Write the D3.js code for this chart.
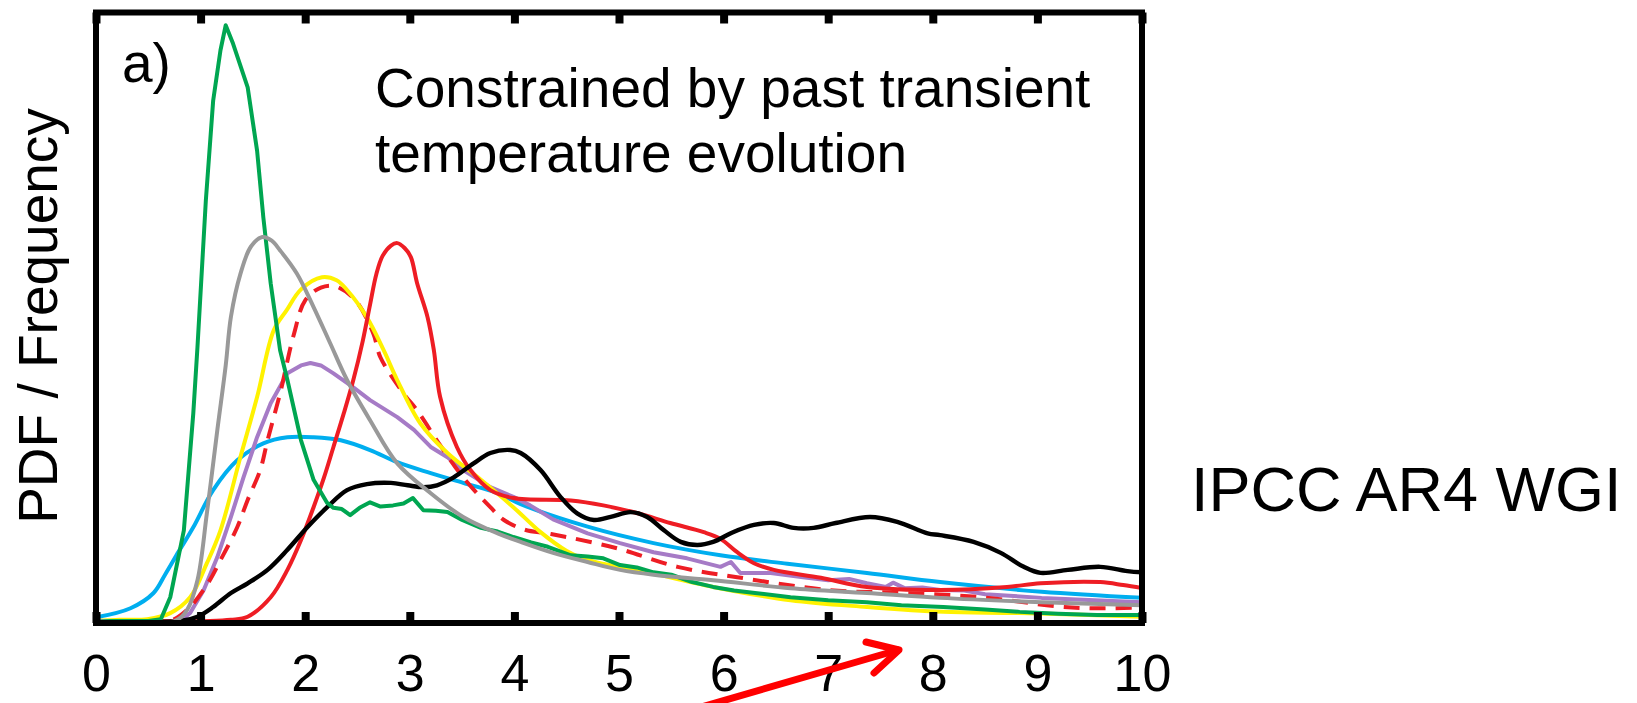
<!DOCTYPE html>
<html>
<head>
<meta charset="utf-8">
<script src="https://cdn.jsdelivr.net/npm/d3@7"></script>
<style>
  html, body { margin: 0; padding: 0; background: #fff; }
  svg { display: block; }
  text { font-family: "Liberation Sans", Arial, Helvetica, sans-serif; fill: #000; }
</style>
</head>
<body>
<div id="chart"></div>
<script>
// climate sensitivity PDFs, panel a) (relative PDF, % of panel height)

const xTicks = [0, 1, 2, 3, 4, 5, 6, 7, 8, 9, 10];

const blue = [[0,0.6],[0.33,2.1],[0.55,4.6],[0.66,7.6],[0.79,11.4],[0.93,15.4],[1.12,21.5],[1.35,26.4],[1.6,29.2],
  [1.83,30.2],[2.08,30.2],[2.34,29.7],[2.62,28.1],[2.88,26.1],[3.2,24.3],[3.51,22.7],[3.84,21.0],[4.06,19.2],
  [4.7,15.5],[5.33,12.8],[5.97,10.8],[6.61,9.4],[7.37,7.9],[8.07,6.4],[9.04,4.8],[10,3.8]];

const purple = [[0,0],[0.81,0],[0.9,1.3],[1.03,5.1],[1.16,10.5],[1.29,17.1],[1.41,23.6],[1.54,30.2],[1.67,35.8],
  [1.83,40.7],[1.96,42.0],[2.05,42.4],[2.15,42.0],[2.27,40.7],[2.46,38.4],[2.62,36.3],[2.88,33.5],[3.04,31.4],
  [3.2,28.6],[3.36,26.9],[3.51,24.8],[3.77,22.0],[3.99,20.4],[4.15,19.0],[4.37,16.7],[4.7,14.4],[5.01,12.8],
  [5.33,11.3],[5.65,10.3],[5.97,8.9],[6.07,9.7],[6.16,7.9],[6.45,7.9],[6.76,7.2],[7.0,6.7],[7.2,6.9],[7.37,6.2],
  [7.55,5.6],[7.62,6.3],[7.73,5.4],[7.9,5.5],[8.07,5.1],[8.3,5.0],[8.5,4.4],[9.04,3.8],[10,3.1]];

const redDashed = [[0,0],[0.7,0],[0.74,0.2],[0.9,2.3],[1.07,6.2],[1.19,10.0],[1.35,15.4],[1.45,19.9],[1.57,24.8],
  [1.64,29.7],[1.76,37.4],[1.89,47.0],[2.0,52.7],[2.15,54.8],[2.29,55.0],[2.48,52.7],[2.65,47.3],[2.72,43.3],
  [2.94,37.4],[3.07,34.6],[3.29,28.9],[3.51,23.6],[3.77,18.7],[3.9,16.6],[4.1,15.0],[4.35,14.3],[4.97,12.0],
  [5.56,8.9],[6.13,7.2],[7.0,5.1],[7.73,4.6],[8.47,3.9],[9.19,2.4],[9.5,2.1],[10,2.2]];

const yellow = [[0,0],[0.23,0.2],[0.49,0.3],[0.71,1.3],[0.9,3.9],[1.06,9.5],[1.19,14.9],[1.38,26.9],[1.54,36.8],
  [1.7,47.8],[1.82,51.0],[1.96,54.5],[2.16,56.5],[2.3,56.0],[2.4,54.4],[2.59,49.9],[2.75,44.5],[2.88,39.6],
  [3.1,32.5],[3.36,27.6],[3.68,23.2],[3.99,18.7],[4.25,14.6],[4.5,11.5],[4.65,10.3],[4.8,9.6],[5.17,8.4],
  [5.9,5.6],[6.64,3.4],[7.37,2.3],[8.1,1.5],[8.83,1.3],[10,0.7]];

const redSolid = [[0,0],[1.09,0],[1.29,0.2],[1.45,0.7],[1.67,3.9],[1.83,8.4],[1.96,13.3],[2.08,18.7],[2.18,23.6],
  [2.27,28.6],[2.37,34.2],[2.46,39.6],[2.55,46.0],[2.62,52.0],[2.68,57.0],[2.74,60.0],[2.82,61.7],[2.88,62.1],
  [2.95,61.3],[3.01,59.8],[3.07,55.5],[3.17,49.9],[3.23,44.5],[3.29,36.8],[3.45,28.6],[3.58,24.8],[3.77,21.5],
  [3.99,20.2],[4.54,19.8],[4.85,19.0],[5.18,17.7],[5.49,16.1],[5.81,14.6],[5.97,13.5],[6.13,11.3],[6.29,9.5],
  [6.48,8.4],[6.93,7.1],[7.37,5.6],[8.07,5.1],[8.71,5.6],[9.03,6.2],[9.6,6.4],[9.82,5.9],[10,5.4]];

const black = [[0,0],[0.81,0],[0.97,0.7],[1.12,2.3],[1.29,4.6],[1.45,6.2],[1.64,8.4],[1.83,11.7],[2.02,15.4],
  [2.21,18.7],[2.4,21.5],[2.59,22.5],[2.82,22.7],[2.98,22.3],[3.13,22.0],[3.26,22.3],[3.42,23.6],[3.61,25.9],
  [3.77,27.6],[3.96,28.1],[4.06,27.6],[4.25,24.8],[4.44,20.4],[4.6,17.7],[4.76,16.6],[4.92,17.1],[5.11,17.9],
  [5.27,17.1],[5.43,14.9],[5.59,13.0],[5.75,12.5],[5.9,13.0],[6.09,14.6],[6.29,15.8],[6.48,16.1],[6.67,15.3],
  [6.86,15.3],[7.07,16.1],[7.4,17.1],[7.66,16.3],[7.95,14.4],[8.07,14.1],[8.39,13.0],[8.65,11.2],[8.87,8.9],
  [9.03,7.9],[9.29,8.4],[9.6,8.9],[9.86,8.2],[10,8.0]];

const green = [[0,0],[0.5,0],[0.62,0.3],[0.71,3.9],[0.84,14.9],[0.93,34.1],[0.97,45.0],[1.05,69.1],[1.12,85.5],
  [1.19,93.8],[1.24,97.9],[1.31,94.9],[1.45,87.7],[1.54,77.3],[1.6,66.3],[1.67,55.5],[1.76,44.5],[1.83,39.6],
  [1.96,29.7],[2.08,23.2],[2.21,19.4],[2.27,18.6],[2.35,18.4],[2.43,17.4],[2.52,18.6],[2.62,19.5],[2.72,18.8],
  [2.84,19.0],[2.94,19.3],[3.03,20.2],[3.13,18.2],[3.25,18.1],[3.36,17.9],[3.5,16.6],[3.68,15.3],[3.84,14.7],
  [3.99,13.8],[4.16,12.9],[4.32,12.2],[4.54,10.8],[4.7,10.6],[4.85,10.3],[5.01,9.2],[5.17,8.8],[5.33,8.0],
  [5.5,7.6],[5.7,6.4],[5.9,5.6],[6.1,5.0],[6.3,4.6],[6.64,3.9],[7.0,3.4],[7.37,3.1],[7.7,2.6],[8.1,2.3],
  [8.5,1.9],[8.83,1.5],[9.2,1.2],[9.57,1.0],[10,1.0]];

const gray = [[0,0],[0.75,0],[0.87,1.8],[0.97,6.7],[1.06,17.7],[1.16,31.4],[1.24,42.0],[1.29,50.0],[1.38,57.0],
  [1.48,61.5],[1.59,63.1],[1.68,62.5],[1.76,60.9],[1.92,57.1],[2.08,51.6],[2.24,45.6],[2.4,39.6],[2.62,33.0],
  [2.88,25.9],[3.2,21.0],[3.51,17.1],[3.84,14.4],[4.06,13.0],[4.37,11.2],[4.7,9.7],[5.01,8.4],[5.33,7.6],
  [5.9,6.7],[6.64,5.4],[7.37,4.6],[8.07,3.8],[9.04,3.1],[10,2.6]];

// draw order: back to front
const series = [
  { name: 'blue',      data: blue,      color: '#00aeef', width: 4,   smooth: true },
  { name: 'purple',    data: purple,    color: '#a67bc6', width: 4,   smooth: false },
  { name: 'redDashed', data: redDashed, color: '#ee1d24', width: 4,   smooth: true, dash: '16,10' },
  { name: 'yellow',    data: yellow,    color: '#fff200', width: 4,   smooth: true },
  { name: 'redSolid',  data: redSolid,  color: '#ee1d24', width: 4,   smooth: true },
  { name: 'black',     data: black,     color: '#000000', width: 4.4, smooth: true },
  { name: 'green',     data: green,     color: '#00a651', width: 4,   smooth: false },
  { name: 'gray',      data: gray,      color: '#999999', width: 4,   smooth: true }
];

const width = 1637, height = 703;
const plot = { left: 96, right: 1142, top: 12.5, bottom: 623, base: 621 };

const svg = d3.select('#chart').append('svg')
  .attr('width', width)
  .attr('height', height);

const x = d3.scaleLinear().domain([0, 10]).range([plot.left, plot.right]);
const y = d3.scaleLinear().domain([0, 100]).range([plot.base, plot.top]);

svg.append('clipPath').attr('id', 'clip')
  .append('rect')
  .attr('x', plot.left).attr('y', plot.top)
  .attr('width', plot.right - plot.left).attr('height', plot.bottom - plot.top);

const lines = svg.append('g').attr('clip-path', 'url(#clip)');

series.forEach(s => {
  const gen = d3.line()
    .x(d => x(d[0]))
    .y(d => y(d[1]))
    .curve(s.smooth ? d3.curveCatmullRom.alpha(0.5) : d3.curveLinear);
  lines.append('path')
    .datum(s.data)
    .attr('class', 'pdf ' + s.name)
    .attr('d', gen)
    .attr('fill', 'none')
    .attr('stroke', s.color)
    .attr('stroke-width', s.width)
    .attr('stroke-linejoin', 'round')
    .attr('stroke-dasharray', s.dash || null);
});

// frame
svg.append('rect')
  .attr('x', plot.left).attr('y', plot.top)
  .attr('width', plot.right - plot.left).attr('height', plot.bottom - plot.top)
  .attr('fill', 'none')
  .attr('stroke', '#000')
  .attr('stroke-width', 6);

// bottom axis: inward ticks + labels
const xAxis = svg.append('g')
  .attr('transform', `translate(0,${plot.bottom})`)
  .call(d3.axisBottom(x).tickValues(xTicks).tickFormat(d3.format('d'))
    .tickSizeInner(-11).tickSizeOuter(0).tickPadding(31));
xAxis.select('.domain').remove();
xAxis.selectAll('.tick line').attr('stroke', '#000').attr('stroke-width', 8);
xAxis.selectAll('.tick text')
  .style('font-family', '"Liberation Sans", Arial, Helvetica, sans-serif')
  .style('font-size', '52px')
  .attr('fill', '#000');

// top axis: inward ticks only
const xTop = svg.append('g')
  .attr('transform', `translate(0,${plot.top})`)
  .call(d3.axisTop(x).tickValues(xTicks).tickFormat('').tickSizeInner(-11).tickSizeOuter(0));
xTop.select('.domain').remove();
xTop.selectAll('.tick line').attr('stroke', '#000').attr('stroke-width', 8);

// texts
svg.append('text').attr('x', 122).attr('y', 82)
  .style('font-size', '55px').text('a)');

svg.append('text').attr('x', 375).attr('y', 107)
  .style('font-size', '55px').text('Constrained by past transient');
svg.append('text').attr('x', 375).attr('y', 172)
  .style('font-size', '55px').text('temperature evolution');

svg.append('text')
  .attr('transform', 'translate(57,316) rotate(-90)')
  .attr('text-anchor', 'middle')
  .style('font-size', '55px')
  .text('PDF / Frequency');

svg.append('text').attr('x', 1191).attr('y', 511)
  .style('font-size', '63px').text('IPCC AR4 WGI');

// red annotation arrow pointing at the tail
const arrow = svg.append('g')
  .attr('fill', 'none')
  .attr('stroke', '#ff0000')
  .attr('stroke-width', 7)
  .attr('stroke-linecap', 'round')
  .attr('stroke-linejoin', 'round');
arrow.append('line').attr('x1', 698).attr('y1', 708).attr('x2', 898).attr('y2', 650);
arrow.append('polyline').attr('points', '866,642 899,650 874,673');
</script>
</body>
</html>
